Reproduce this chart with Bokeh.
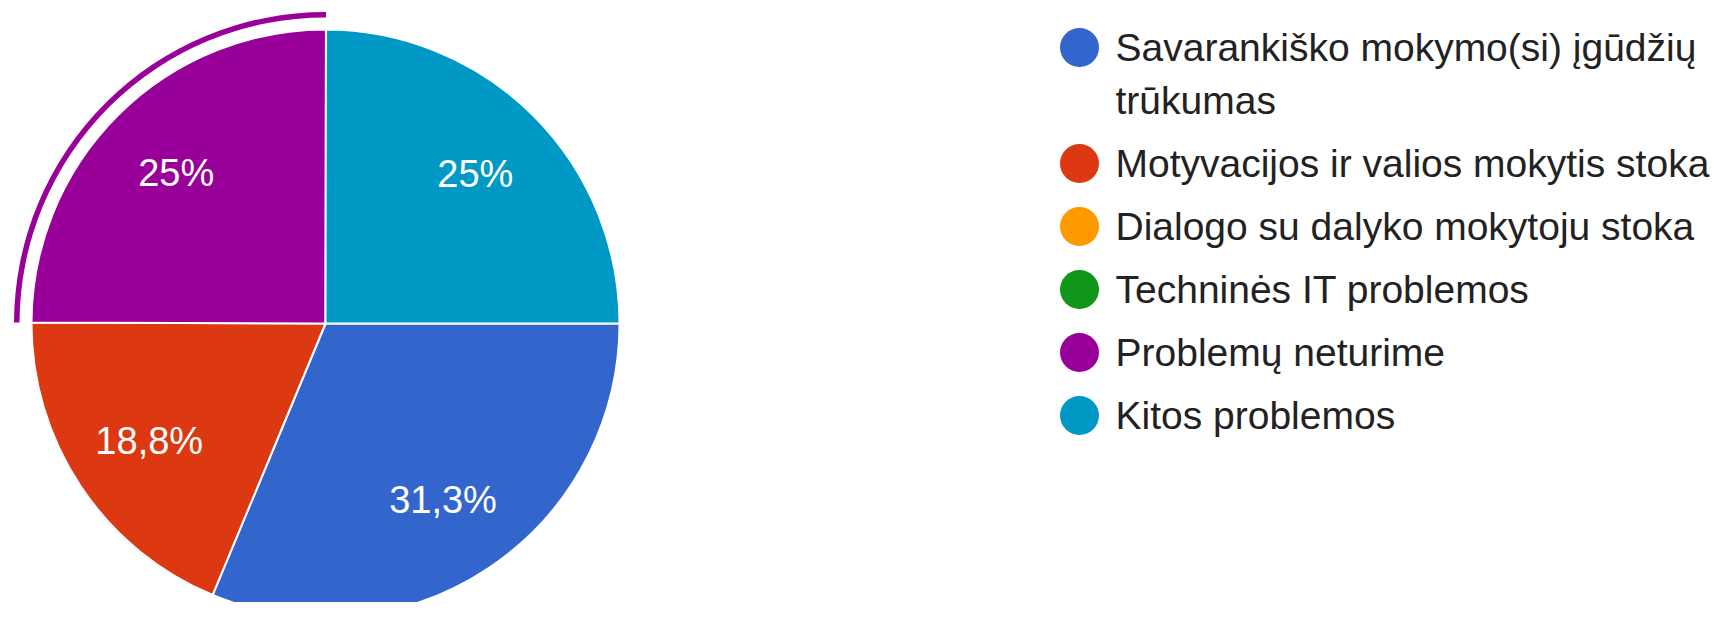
import math
from bokeh.plotting import figure
from bokeh.models import Range1d, ColumnDataSource
from bokeh.core.properties import value
from bokeh.embed import file_html
from bokeh.resources import INLINE

# ---- data ----
categories = [
    "Savarankiško mokymo(si) įgūdžių\ntrūkumas",
    "Motyvacijos ir valios mokytis stoka",
    "Dialogo su dalyko mokytoju stoka",
    "Techninės IT problemos",
    "Problemų neturime",
    "Kitos problemos",
]
percents = [31.3, 18.8, 0, 0, 25, 25]
colors = ["#3366cc", "#dc3912", "#ff9900", "#109618", "#990099", "#0099c6"]
highlighted = 4  # selected slice (Problemų neturime)

# ---- layout ----
W, H = 1713, 602
p = figure(width=W, height=H, x_range=Range1d(0, W), y_range=Range1d(0, H),
           output_backend="svg", toolbar_location=None, min_border=0,
           x_axis_type=None, y_axis_type=None)
p.grid.visible = False
p.outline_line_color = None
p.background_fill_color = "white"

FONT = value("Liberation Sans")
cx, cy, R = 325, H - 323, 294

total = sum(percents)
cum = 0.0
starts, ends, cols, lx, ly, lt = [], [], [], [], [], []
angles = []
for v, c in zip(percents, colors):
    a0 = cum / total
    cum += v
    a1 = cum / total
    # clockwise from 3 o'clock
    angles.append((-2 * math.pi * a1, -2 * math.pi * a0))
    if v > 0:
        starts.append(-2 * math.pi * a1)
        ends.append(-2 * math.pi * a0)
        cols.append(c)
        mid = -2 * math.pi * (a0 + a1) / 2
        lx.append(cx + 0.72 * R * math.cos(mid))
        ly.append(cy + 0.72 * R * math.sin(mid))
        s = ("%d%%" % v) if float(v).is_integer() else ("%.1f%%" % v).replace(".", ",")
        lt.append(s)

src = ColumnDataSource(dict(s=starts, e=ends, c=cols))
p.wedge(x=cx, y=cy, radius=R, start_angle="s", end_angle="e", fill_color="c",
        line_color="white", line_width=2, source=src)

# highlight arc around selected slice
hs, he = angles[highlighted]
p.annular_wedge(x=cx, y=cy, inner_radius=306, outer_radius=311.5, start_angle=hs,
                end_angle=he, fill_color=colors[highlighted], line_color=None)

p.text(x=lx, y=ly, text=lt, text_font=FONT, text_font_size="38px",
       text_color="white", text_align="center", text_baseline="middle")

# ---- legend ----
lgx_c, lgx_t = 1079, 1115
y = H - 47
cxs, cys, tx, ty, tt = [], [], [], [], []
for lab, c in zip(categories, colors):
    lines = lab.split("\n")
    cxs.append(lgx_c)
    cys.append(y)
    for k, ln in enumerate(lines):
        tx.append(lgx_t)
        ty.append(y - 53 * k)
        tt.append(ln)
    y -= 53 * (len(lines) - 1) + 63

p.scatter(x=cxs, y=cys, size=39, fill_color=colors, line_color=None)
p.text(x=tx, y=ty, text=tt, text_font=FONT, text_font_size="39px",
       text_color="#222222", text_align="left", text_baseline="middle")

open("out.html", "w").write(file_html(p, INLINE))
